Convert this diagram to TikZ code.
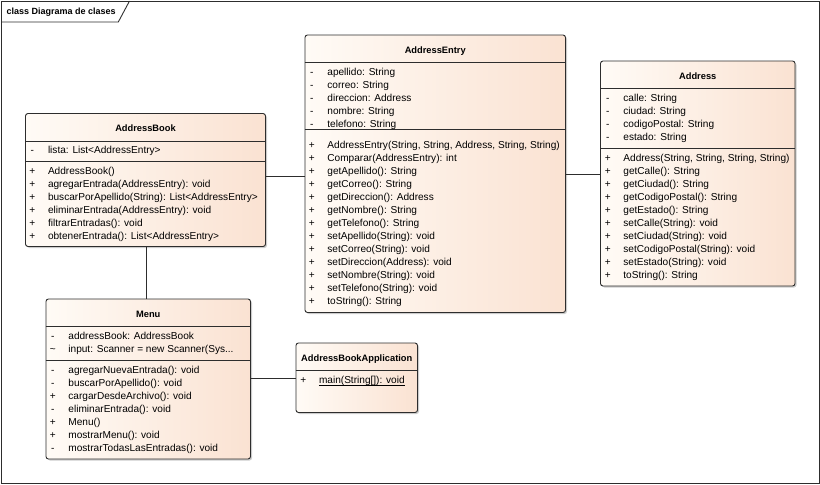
\documentclass[tikz,border=0pt]{standalone}
\usepackage{fontspec}
\setmainfont{Liberation Sans}
\usetikzlibrary{shadows}
\definecolor{cL}{RGB}{255,251,246}
\definecolor{cR}{RGB}{250,226,210}
\definecolor{ln}{RGB}{45,45,45}
\tikzset{
 classbox/.style={draw=ln, line width=0.9pt, rounded corners=2.5pt, left color=cL, right color=cR, inner sep=0pt,
   drop shadow={shadow xshift=1.5pt, shadow yshift=-1.5pt, fill=black!40, opacity=0.5}},
 ttl/.style={font=\fontsize{9.3}{11}\selectfont\bfseries, inner sep=0pt, anchor=mid, yshift=-0.5pt},
 vis/.style={font=\fontsize{10.1}{13}\selectfont, inner sep=0pt, anchor=mid, yshift=-0.3pt},
 mem/.style={font=\fontsize{10.1}{13}\selectfont, inner sep=0pt, anchor=mid west, yshift=-0.3pt},
 sepl/.style={draw=ln, line width=0.9pt},
 conn/.style={draw=ln, line width=0.9pt},
}
\newcommand\mrow[5]{\node[vis] (#1v) at (#2,#3) {#4}; \node[mem] (#1) at (#2+15.5,#3) {#5};}
\begin{document}
\begin{tikzpicture}[x=1pt,y=-1pt]
\useasboundingbox (0,0) rectangle (820,485);
% frame
\draw[ln, line width=1pt] (1,1) rectangle (819,483.5);
\draw[ln, line width=0.9pt] (1,22) -- (118.3,22) -- (129.5,1);
\node[font=\fontsize{9}{11}\selectfont\bfseries, inner sep=0pt, anchor=mid west, yshift=-0.5pt] (frm) at (6.5,11.5) {class Diagrama de clases};

% boxes
\node[classbox, minimum width=240pt, minimum height=133pt] (ab) at (145.5,180) {};
\node[classbox, minimum width=260.5pt, minimum height=277.5pt] (ae) at (435.25,173.75) {};
\node[classbox, minimum width=194.5pt, minimum height=225pt] (ad) at (697.75,173.5) {};
\node[classbox, minimum width=204.5pt, minimum height=160pt] (mn) at (148.25,379) {};
\node[classbox, minimum width=121.5pt, minimum height=69.5pt] (aba) at (356.75,377.75) {};

% connectors
\coordinate (c1) at (0,176.7);
\coordinate (c2) at (0,174.3);
\coordinate (c3) at (146.7,0);
\coordinate (c4) at (0,378.3);
\draw[conn] (ab.east |- c1) -- (ae.west |- c1);
\draw[conn] (ae.east |- c2) -- (ad.west |- c2);
\draw[conn] (ab.south -| c3) -- (mn.north -| c3);
\draw[conn] (mn.east |- c4) -- (aba.west |- c4);

% AddressBook
\node[ttl] (abt) at (145.5,128.3) {AddressBook};
\draw[sepl] (ab.west |- 0,141.7) -- (ab.east |- 0,141.7);
\draw[sepl] (ab.west |- 0,161.7) -- (ab.east |- 0,161.7);
\mrow{ab1}{32.3}{150.7}{-}{lista: List<AddressEntry>}
\mrow{ab2}{32.3}{171.7}{+}{AddressBook()}
\mrow{ab3}{32.3}{184.7}{+}{agregarEntrada(AddressEntry): void}
\mrow{ab4}{32.3}{197.7}{+}{buscarPorApellido(String): List<AddressEntry>}
\mrow{ab5}{32.3}{210.7}{+}{eliminarEntrada(AddressEntry): void}
\mrow{ab6}{32.3}{223.7}{+}{filtrarEntradas(): void}
\mrow{ab7}{32.3}{236.7}{+}{obtenerEntrada(): List<AddressEntry>}

% AddressEntry
\node[ttl] (aet) at (435.25,50.7) {AddressEntry};
\draw[sepl] (ae.west |- 0,62.3) -- (ae.east |- 0,62.3);
\draw[sepl] (ae.west |- 0,129.3) -- (ae.east |- 0,129.3);
\mrow{ae1}{311.7}{72.5}{-}{apellido: String}
\mrow{ae2}{311.7}{85.5}{-}{correo: String}
\mrow{ae3}{311.7}{98.5}{-}{direccion: Address}
\mrow{ae4}{311.7}{111.5}{-}{nombre: String}
\mrow{ae5}{311.7}{124.2}{-}{telefono: String}
\mrow{ae6}{311.7}{145.7}{+}{AddressEntry(String, String, Address, String, String)}
\mrow{ae7}{311.7}{158.7}{+}{Comparar(AddressEntry): int}
\mrow{ae8}{311.7}{171.7}{+}{getApellido(): String}
\mrow{ae9}{311.7}{184.7}{+}{getCorreo(): String}
\mrow{ae10}{311.7}{197.7}{+}{getDireccion(): Address}
\mrow{ae11}{311.7}{210.7}{+}{getNombre(): String}
\mrow{ae12}{311.7}{223.7}{+}{getTelefono(): String}
\mrow{ae13}{311.7}{236.7}{+}{setApellido(String): void}
\mrow{ae14}{311.7}{249.7}{+}{setCorreo(String): void}
\mrow{ae15}{311.7}{262.7}{+}{setDireccion(Address): void}
\mrow{ae16}{311.7}{275.7}{+}{setNombre(String): void}
\mrow{ae17}{311.7}{288.7}{+}{setTelefono(String): void}
\mrow{ae18}{311.7}{301.7}{+}{toString(): String}

% Address
\node[ttl] (adt) at (697.75,76.7) {Address};
\draw[sepl] (ad.west |- 0,88.3) -- (ad.east |- 0,88.3);
\draw[sepl] (ad.west |- 0,148.3) -- (ad.east |- 0,148.3);
\mrow{ad1}{607.7}{98.5}{-}{calle: String}
\mrow{ad2}{607.7}{111.5}{-}{ciudad: String}
\mrow{ad3}{607.7}{124.5}{-}{codigoPostal: String}
\mrow{ad4}{607.7}{137.5}{-}{estado: String}
\mrow{ad5}{607.7}{158.7}{+}{Address(String, String, String, String)}
\mrow{ad6}{607.7}{171.7}{+}{getCalle(): String}
\mrow{ad7}{607.7}{184.7}{+}{getCiudad(): String}
\mrow{ad8}{607.7}{197.7}{+}{getCodigoPostal(): String}
\mrow{ad9}{607.7}{210.7}{+}{getEstado(): String}
\mrow{ad10}{607.7}{223.7}{+}{setCalle(String): void}
\mrow{ad11}{607.7}{236.7}{+}{setCiudad(String): void}
\mrow{ad12}{607.7}{249.7}{+}{setCodigoPostal(String): void}
\mrow{ad13}{607.7}{262.7}{+}{setEstado(String): void}
\mrow{ad14}{607.7}{275.7}{+}{toString(): String}

% Menu
\node[ttl] (mnt) at (148.25,314.3) {Menu};
\draw[sepl] (mn.west |- 0,326) -- (mn.east |- 0,326);
\draw[sepl] (mn.west |- 0,360) -- (mn.east |- 0,360);
\mrow{mn1}{52.7}{336.7}{-}{addressBook: AddressBook}
\mrow{mn2}{52.7}{349.7}{\textasciitilde}{input: Scanner = new Scanner(Sys...}
\mrow{mn3}{52.7}{370.7}{-}{agregarNuevaEntrada(): void}
\mrow{mn4}{52.7}{383.7}{-}{buscarPorApellido(): void}
\mrow{mn5}{52.7}{396.7}{+}{cargarDesdeArchivo(): void}
\mrow{mn6}{52.7}{409.7}{-}{eliminarEntrada(): void}
\mrow{mn7}{52.7}{422.7}{+}{Menu()}
\mrow{mn8}{52.7}{435.7}{+}{mostrarMenu(): void}
\mrow{mn9}{52.7}{448.7}{-}{mostrarTodasLasEntradas(): void}

% AddressBookApplication
\node[ttl] (abat) at (356.75,358.3) {AddressBookApplication};
\draw[sepl] (aba.west |- 0,370) -- (aba.east |- 0,370);
\mrow{aba1}{303.3}{380.7}{+}{main(String[]): void}
\draw[draw=black, line width=0.6pt] ([yshift=-1.8pt]aba1.base west) -- ([yshift=-1.8pt]aba1.base east);
\end{tikzpicture}
\end{document}
